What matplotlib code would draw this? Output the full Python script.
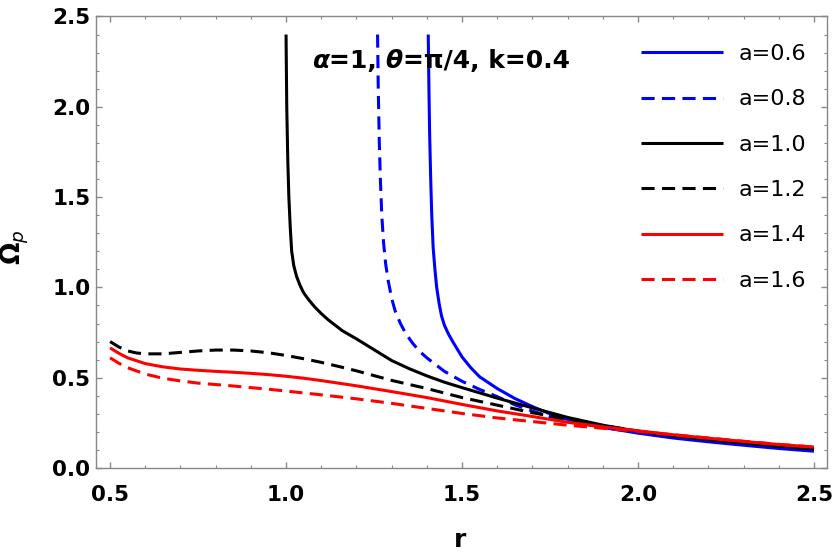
import matplotlib
matplotlib.use('Agg')
import matplotlib.pyplot as plt
import numpy as np

#%% Datos leidos de la figura
# a = 0.6 (azul, continua)
r_06 = [1.404, 1.406, 1.408, 1.411, 1.414, 1.418, 1.423, 1.428, 1.435, 1.442, 1.45,
        1.462, 1.475, 1.5, 1.525, 1.55, 1.6, 1.65, 1.7, 1.75, 1.8, 1.9, 2.0, 2.1,
        2.2, 2.3, 2.4, 2.5]
w_06 = [2.4, 2.1, 1.85, 1.6, 1.4, 1.22, 1.1, 1.0, 0.91, 0.84, 0.79,
        0.74, 0.695, 0.615, 0.555, 0.505, 0.44, 0.385, 0.34, 0.30, 0.268, 0.225,
        0.193, 0.166, 0.145, 0.126, 0.108, 0.093]

# a = 0.8 (azul, discontinua)
r_08 = [1.26, 1.262, 1.265, 1.268, 1.272, 1.277, 1.283, 1.29, 1.3, 1.31, 1.325, 1.34,
        1.36, 1.38, 1.4, 1.45, 1.5, 1.55, 1.6, 1.65, 1.7, 1.75, 1.8, 1.9, 2.0, 2.1,
        2.2, 2.3, 2.4, 2.5]
w_08 = [2.4, 2.1, 1.8, 1.6, 1.4, 1.25, 1.13, 1.04, 0.94, 0.87, 0.8, 0.745,
        0.69, 0.645, 0.61, 0.535, 0.48, 0.435, 0.395, 0.35, 0.315, 0.285, 0.26,
        0.225, 0.196, 0.17, 0.149, 0.13, 0.113, 0.098]

# a = 1.0 (negra, continua)
r_10 = [1.0, 1.002, 1.005, 1.008, 1.012, 1.016, 1.022, 1.03, 1.04, 1.05, 1.065, 1.08,
        1.1, 1.12, 1.16, 1.2, 1.25, 1.3, 1.35, 1.4, 1.45, 1.5, 1.6, 1.7, 1.8, 1.9,
        2.0, 2.1, 2.2, 2.3, 2.4, 2.5]
w_10 = [2.4, 2.0, 1.7, 1.5, 1.33, 1.2, 1.12, 1.06, 1.01, 0.97, 0.93, 0.895,
        0.855, 0.82, 0.76, 0.715, 0.655, 0.595, 0.55, 0.51, 0.475, 0.445, 0.387,
        0.333, 0.28, 0.237, 0.203, 0.178, 0.158, 0.139, 0.121, 0.105]

# a = 1.2 (negra, discontinua)
r_12 = [0.5, 0.525, 0.55, 0.575, 0.6, 0.65, 0.7, 0.75, 0.8, 0.85, 0.9, 0.95, 1.0,
        1.05, 1.1, 1.15, 1.2, 1.3, 1.4, 1.5, 1.6, 1.7, 1.8, 1.9, 2.0, 2.1, 2.2, 2.3, 2.4, 2.5]
w_12 = [0.70, 0.67, 0.648, 0.637, 0.632, 0.632, 0.640, 0.648, 0.653, 0.653, 0.648,
        0.638, 0.623, 0.605, 0.585, 0.562, 0.538, 0.485, 0.44, 0.39, 0.348, 0.306, 0.27,
        0.235, 0.204, 0.178, 0.157, 0.138, 0.121, 0.106]

# a = 1.4 (roja, continua)
r_14 = [0.5, 0.525, 0.55, 0.6, 0.65, 0.7, 0.75, 0.8, 0.85, 0.9, 0.95, 1.0, 1.05, 1.1,
        1.2, 1.3, 1.4, 1.5, 1.6, 1.7, 1.8, 1.9, 2.0, 2.1, 2.2, 2.3, 2.4, 2.5]
w_14 = [0.665, 0.635, 0.61, 0.578, 0.56, 0.548, 0.541, 0.535, 0.53, 0.524, 0.517,
        0.508, 0.497, 0.484, 0.455, 0.423, 0.39, 0.352, 0.316, 0.285, 0.253, 0.228,
        0.206, 0.184, 0.165, 0.147, 0.13, 0.116]

# a = 1.6 (roja, discontinua)
r_16 = [0.5, 0.525, 0.55, 0.6, 0.65, 0.7, 0.75, 0.8, 0.85, 0.9, 0.95, 1.0, 1.1, 1.2,
        1.3, 1.4, 1.5, 1.6, 1.7, 1.8, 1.9, 2.0, 2.1, 2.2, 2.3, 2.4, 2.5]
w_16 = [0.61, 0.58, 0.555, 0.52, 0.497, 0.482, 0.47, 0.462, 0.454, 0.445, 0.436,
        0.426, 0.405, 0.383, 0.358, 0.33, 0.302, 0.277, 0.257, 0.237, 0.22, 0.203,
        0.184, 0.166, 0.148, 0.131, 0.116]

etiquetas = ['a=0.6', 'a=0.8', 'a=1.0', 'a=1.2', 'a=1.4', 'a=1.6']
colores = ['#0000ff', '#0000ff', 'black', 'black', '#ff0000', '#ff0000']
discontinua = [False, True, False, True, False, True]
curvas = [(r_06, w_06), (r_08, w_08), (r_10, w_10),
          (r_12, w_12), (r_14, w_14), (r_16, w_16)]

#%% Figura
plt.rcParams['font.family'] = ['DejaVu Sans']
plt.rcParams['mathtext.fontset'] = 'dejavusans'

fig = plt.figure(figsize=(8.34, 5.57), dpi=100)
ax = fig.add_axes([0.1151, 0.1598, 0.8765, 0.8106])

for (r, w), lab, c, dash in zip(curvas, etiquetas, colores, discontinua):
    line, = ax.plot(r, w, color=c, linewidth=2.2, label=lab,
                    solid_capstyle='butt', dash_capstyle='butt',
                    solid_joinstyle='round')
    if dash:
        line.set_dashes((4.3, 2.4))

ax.set_xlim(0.46, 2.537)
ax.set_ylim(0.0, 2.5)
ax.set_xticks([0.5, 1.0, 1.5, 2.0, 2.5])
ax.set_yticks([0.0, 0.5, 1.0, 1.5, 2.0, 2.5])
ax.set_xticks(np.arange(0.5, 2.55, 0.1), minor=True)
ax.set_yticks(np.arange(0.0, 2.55, 0.1), minor=True)
ax.set_xticklabels(['0.5', '1.0', '1.5', '2.0', '2.5'])
ax.set_yticklabels(['0.0', '0.5', '1.0', '1.5', '2.0', '2.5'])

gris = '#888888'
for s in ax.spines.values():
    s.set_color(gris)
    s.set_linewidth(1.0)
ax.tick_params(which='both', direction='in', top=True, right=True, color=gris)
ax.tick_params(which='major', length=4, width=1.0)
ax.tick_params(which='minor', length=2.3, width=0.8)
ax.tick_params(axis='x', which='major', pad=12, labelsize=15.5)
ax.tick_params(axis='y', which='major', pad=4, labelsize=15.5)
for lbl in ax.get_xticklabels() + ax.get_yticklabels():
    lbl.set_fontweight('bold')

fig.text(460 / 834, 1 - 540 / 557, 'r', fontsize=18, fontweight='bold',
         ha='center', va='center')
fig.text(15 / 834, 1 - 247 / 557, r'$\mathbf{\Omega}_{p}$', fontsize=19,
         rotation=90, ha='center', va='center')

# Texto de parametros: letras griegas en cursiva, encadenadas una tras otra
trozos = [('α', 'italic'), ('=1, ', 'normal'), ('θ', 'italic'), ('=π/4, k=0.4', 'normal')]
anterior = None
for txt, estilo in trozos:
    if anterior is None:
        anterior = ax.annotate(txt, xy=(312 / 834, 1 - 73 / 557),
                               xycoords='figure fraction', fontsize=18,
                               fontweight='bold', fontstyle=estilo,
                               ha='left', va='bottom')
    else:
        anterior = ax.annotate(txt, xy=(1, 0), xycoords=anterior, fontsize=18,
                               fontweight='bold', fontstyle=estilo,
                               ha='left', va='bottom')

leg = ax.legend(loc='upper left', bbox_to_anchor=(641 / 834, 1 - 44 / 557),
                bbox_transform=fig.transFigure, frameon=False, fontsize=16,
                handlelength=3.7, handletextpad=0.7, labelspacing=1.14,
                borderpad=0, borderaxespad=0)

fig.savefig('out.png', dpi=100)
